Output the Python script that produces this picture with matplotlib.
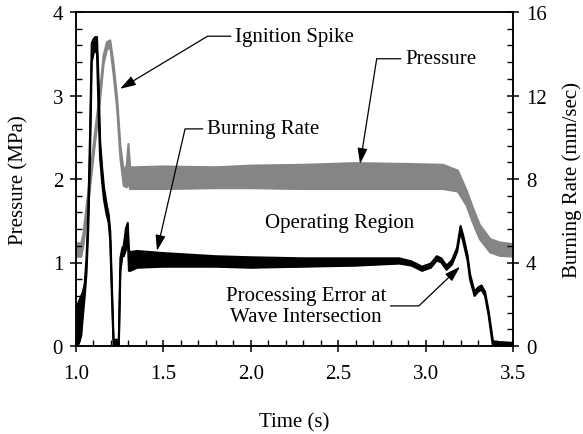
import numpy as np
import matplotlib
matplotlib.use("Agg")
import matplotlib.pyplot as plt

plt.rcParams['font.family'] = ['Liberation Serif', 'DejaVu Serif']
plt.rcParams['font.size'] = 15

# pressure trace (MPa), lower / upper edge of the noisy band
t_p = [1.000, 1.030, 1.042, 1.071, 1.110, 1.138, 1.158, 1.177, 1.196, 1.215,
       1.235, 1.254, 1.273, 1.290, 1.300, 1.310, 1.330, 1.500, 1.800, 2.000,
       2.300, 2.600, 2.900, 3.100, 3.185, 3.235, 3.270, 3.310, 3.370, 3.425, 3.500]
p_lo = [1.07, 1.07, 1.20, 1.72, 2.45, 2.95, 3.38, 3.55, 3.58, 3.25,
        2.85, 2.25, 1.92, 1.90, 1.95, 1.88, 1.88, 1.88, 1.89, 1.89,
        1.88, 1.88, 1.88, 1.88, 1.85, 1.68, 1.48, 1.28, 1.12, 1.08, 1.07]
p_hi = [1.23, 1.23, 1.34, 1.86, 2.58, 3.06, 3.48, 3.64, 3.66, 3.38,
        2.98, 2.40, 2.10, 2.16, 2.42, 2.14, 2.14, 2.15, 2.14, 2.16,
        2.17, 2.19, 2.18, 2.17, 2.10, 1.86, 1.66, 1.45, 1.28, 1.24, 1.22]

# burning rate trace (mm/sec), lower / upper edge
t_b = [1.000, 1.010, 1.020, 1.030, 1.040, 1.050, 1.060, 1.070, 1.080, 1.090,
       1.100, 1.110, 1.120, 1.130, 1.138, 1.150, 1.160, 1.175, 1.187, 1.196,
       1.205, 1.215, 1.245, 1.254, 1.265, 1.273, 1.285, 1.296, 1.303, 1.310,
       1.350, 1.500, 1.800, 2.000, 2.300, 2.600, 2.850, 2.920, 2.980, 3.030,
       3.064, 3.090, 3.120, 3.150, 3.180, 3.200, 3.215, 3.240, 3.254, 3.280,
       3.300, 3.320, 3.340, 3.360, 3.385, 3.400, 3.500]
b_lo = [0.0, 0.0, 0.2, 0.5, 1.5, 2.4, 3.5, 5.6, 9.0, 13.6,
        14.0, 14.2, 14.0, 11.0, 9.0, 7.8, 7.0, 6.3, 5.9, 5.0,
        2.5, 0.0, 0.0, 3.6, 4.3, 4.3, 4.6, 5.2, 3.6, 3.6,
        3.75, 3.8, 3.8, 3.75, 3.8, 3.85, 3.95, 3.85, 3.6, 3.75,
        4.1, 4.0, 3.65, 3.9, 4.5, 5.5, 5.0, 4.1, 3.2, 2.4,
        2.6, 2.7, 2.4, 1.5, 0.0, 0.0, 0.0]
b_hi = [1.6, 2.0, 2.2, 2.4, 2.6, 3.0, 4.2, 6.4, 10.0, 14.5,
        14.7, 14.8, 14.8, 12.5, 9.8, 8.5, 7.6, 6.8, 6.3, 5.5,
        3.0, 0.3, 0.3, 4.2, 4.7, 4.8, 5.6, 5.9, 4.6, 4.5,
        4.55, 4.45, 4.3, 4.25, 4.2, 4.2, 4.2, 4.05, 3.8, 3.95,
        4.3, 4.2, 3.85, 4.1, 4.7, 5.75, 5.3, 4.35, 3.45, 2.6,
        2.8, 2.9, 2.6, 1.7, 0.25, 0.2, 0.15]

x_ticks = [1.0, 1.5, 2.0, 2.5, 3.0, 3.5]
p_ticks = [0, 1, 2, 3, 4]
b_ticks = [0, 4, 8, 12, 16]

gray = '#858585'

fig = plt.figure(figsize=(5.83, 4.35), dpi=100)
ax = fig.add_axes([76/583, 1-347/435, 437/583, 334/435])
ax2 = ax.twinx()

ax.fill_between(t_p, p_lo, p_hi, color=gray, lw=0)
ax.plot(t_p, p_lo, color=gray, lw=1.5)
ax.plot(t_p, p_hi, color=gray, lw=1.5)

ax2.fill_between(t_b, b_lo, b_hi, color='black', lw=0)
ax2.plot(t_b, b_lo, color='black', lw=1.5)
ax2.plot(t_b, b_hi, color='black', lw=1.5)

ax.set_xlim(1.0, 3.5)
ax.set_ylim(0, 4)
ax2.set_ylim(0, 16)
ax.set_xticks(x_ticks)
ax.set_xticklabels(['%.1f' % v for v in x_ticks])
ax.set_yticks(p_ticks)
ax2.set_yticks(b_ticks)
ax.set_xticks(np.arange(1.0, 3.51, 0.1), minor=True)
ax.set_yticks(np.arange(0, 4.01, 0.2), minor=True)
ax2.set_yticks(np.arange(0, 16.01, 0.8), minor=True)

for a in (ax, ax2):
    for s in a.spines.values():
        s.set_linewidth(1.1)
    a.tick_params(which='major', direction='inout', length=8.6, width=1.1)
    a.tick_params(which='minor', direction='in', length=4.3, width=1.0)
ax.tick_params(axis='x', which='major', pad=9)
ax.tick_params(axis='y', which='major', pad=5)
ax2.tick_params(axis='y', which='major', pad=5)

ax.set_xlabel('Time (s)')
ax.set_ylabel('Pressure (MPa)')
ax2.set_ylabel('Burning Rate (mm/sec)')
ax.xaxis.label.set_va('center')
ax.yaxis.label.set_va('center')
ax2.yaxis.label.set_va('center')
ax.xaxis.set_label_coords(0.5, -0.228)
ax.yaxis.set_label_coords(-0.130, 0.5)
ax2.yaxis.set_label_coords(1.135, 0.5)

arrow = dict(arrowstyle='-|>,head_length=0.95,head_width=0.3', color='black',
             lw=0.9, mutation_scale=10, shrinkA=1, shrinkB=0)

ax.annotate('Ignition Spike', xy=(1.252, 3.08), xytext=(1.91, 3.71),
            ha='left', va='center',
            arrowprops=dict(arrow, relpos=(0, 0.5),
                            connectionstyle='angle,angleA=0,angleB=31,rad=0'))
ax.annotate('Pressure', xy=(2.625, 2.18), xytext=(2.882, 3.44),
            ha='left', va='center',
            arrowprops=dict(arrow, relpos=(0, 0.5),
                            connectionstyle='angle,angleA=0,angleB=81,rad=0'))
ax.annotate('Burning Rate', xy=(1.463, 1.14), xytext=(1.749, 2.60),
            ha='left', va='center',
            arrowprops=dict(arrow, relpos=(0, 0.5),
                            connectionstyle='angle,angleA=0,angleB=77,rad=0'))
ax.annotate('Processing Error at\nWave Intersection', xy=(3.197, 0.95),
            xytext=(2.316, 0.48), ha='center', va='center',
            multialignment='center',
            arrowprops=dict(arrow, relpos=(1, 0.5),
                            connectionstyle='angle,angleA=0,angleB=43.6,rad=0'))
ax.text(2.51, 1.485, 'Operating Region', ha='center', va='center')

fig.savefig('out.png', dpi=100)
